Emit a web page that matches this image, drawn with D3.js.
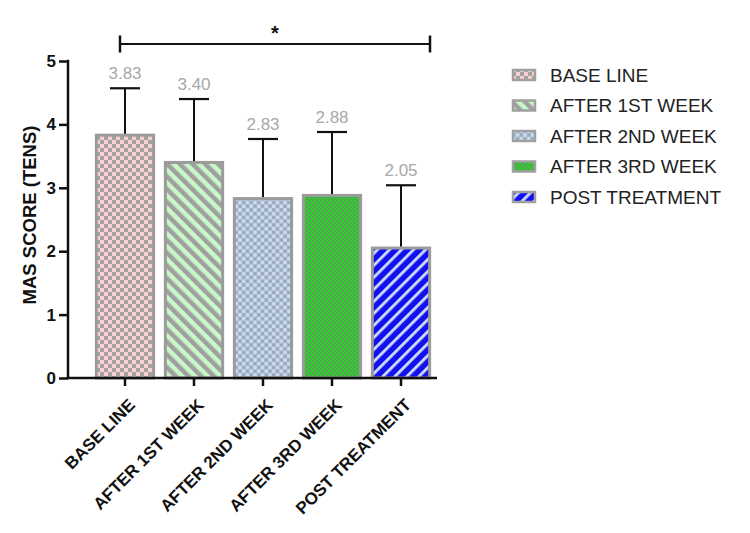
<!DOCTYPE html>
<html><head><meta charset="utf-8">
<script src="https://cdn.jsdelivr.net/npm/d3@7"></script>
<style>body{margin:0;background:#fff;} text{font-family:"Liberation Sans",Arial,sans-serif;}</style>
</head><body>
<svg id="chart" width="750" height="533"></svg>
<script>
const categories = ["BASE LINE","AFTER 1ST WEEK","AFTER 2ND WEEK","AFTER 3RD WEEK","POST TREATMENT"];
const means = [3.83, 3.40, 2.83, 2.88, 2.05];
const errUpper = [4.57, 4.40, 3.77, 3.88, 3.04];
const valueLabels = ["3.83","3.40","2.83","2.88","2.05"];
const yTicks = [0,1,2,3,4,5];
const sigLabel = "*";
const yTitle = "MAS SCORE (TENS)";

const svg = d3.select("#chart");
const defs = svg.append("defs");

function checker(id, c1, c2, s){
  const p = defs.append("pattern").attr("id",id).attr("patternUnits","userSpaceOnUse").attr("width",2*s).attr("height",2*s);
  p.append("rect").attr("width",2*s).attr("height",2*s).attr("fill",c1);
  p.append("rect").attr("width",s).attr("height",s).attr("fill",c2);
  p.append("rect").attr("x",s).attr("y",s).attr("width",s).attr("height",s).attr("fill",c2);
}
function stripes(id, bg, fg, period, w, angle){
  const p = defs.append("pattern").attr("id",id).attr("patternUnits","userSpaceOnUse").attr("width",period).attr("height",period).attr("patternTransform",`rotate(${angle})`);
  p.append("rect").attr("width",period).attr("height",period).attr("fill",bg);
  p.append("rect").attr("width",w).attr("height",period).attr("fill",fg);
}
checker("p0","#fbd0d0","#a3a1a1",4);
stripes("p1","#c8f7c8","#a0a0a0",9,4.5,-45);
{
  const s=7.5, r=2.3, c="#c2dcfa";
  const p = defs.append("pattern").attr("id","p2").attr("patternUnits","userSpaceOnUse").attr("width",s).attr("height",s);
  p.append("rect").attr("width",s).attr("height",s).attr("fill","#9fa2a9");
  [[0,0],[s,0],[0,s],[s,s],[s/2,s/2]].forEach(([a,b])=>p.append("circle").attr("cx",a).attr("cy",b).attr("r",r).attr("fill",c));
}
checker("p3","#30cc30","#52a452",2);
stripes("p4","#1010f0","#c8d4f4",8.5,3,45);

const colors = ["p0","p1","p2","p3","p4"];

const x = d3.scaleBand().domain(categories).range([90.5,435.5]).paddingInner(0.17).paddingOuter(0.085);
const y = d3.scaleLinear().domain([0,5]).range([378,61]);

svg.selectAll("rect.bar").data(categories).join("rect").attr("class","bar")
  .attr("x",d=>x(d)).attr("width",x.bandwidth())
  .attr("y",(d,i)=>y(means[i])).attr("height",(d,i)=>y(0)-y(means[i]))
  .attr("fill",(d,i)=>`url(#${colors[i]})`).attr("stroke","#9b9b9b").attr("stroke-width",3);

const cx = d=>x(d)+x.bandwidth()/2;
svg.selectAll("line.err").data(categories).join("line").attr("class","err")
  .attr("x1",cx).attr("x2",cx).attr("y1",(d,i)=>y(means[i])-1.5).attr("y2",(d,i)=>y(errUpper[i]))
  .attr("stroke","#111").attr("stroke-width",2);
svg.selectAll("line.cap").data(categories).join("line").attr("class","cap")
  .attr("x1",d=>cx(d)-15).attr("x2",d=>cx(d)+15).attr("y1",(d,i)=>y(errUpper[i])).attr("y2",(d,i)=>y(errUpper[i]))
  .attr("stroke","#111").attr("stroke-width",2.2);
svg.selectAll("text.val").data(categories).join("text").attr("class","val")
  .attr("x",cx).attr("y",(d,i)=>y(errUpper[i])-9).attr("text-anchor","middle")
  .attr("fill","#a8a8a8").attr("font-size",17).text((d,i)=>valueLabels[i]);

const yAxis = svg.append("g").attr("transform","translate(68,0)")
  .call(d3.axisLeft(y).tickValues(yTicks).tickFormat(d3.format("d")).tickSize(9).tickPadding(3));
yAxis.select(".domain").attr("stroke","#111").attr("stroke-width",2.5).attr("d","M0,378V59.75");
yAxis.selectAll(".tick line").attr("stroke","#111").attr("stroke-width",2.5);
yAxis.selectAll(".tick text").attr("font-size",17).attr("font-weight","bold").attr("fill","#111")
  .attr("font-family","'Liberation Sans',Arial,sans-serif");

const xAxis = svg.append("g").attr("transform","translate(0,378)")
  .call(d3.axisBottom(x).tickSize(8).tickSizeOuter(0));
xAxis.select(".domain").attr("stroke","#111").attr("stroke-width",2.5).attr("d","M66.75,0H437");
xAxis.selectAll(".tick line").attr("stroke","#111").attr("stroke-width",2.5);
xAxis.selectAll(".tick text").attr("font-size",17).attr("font-weight","bold").attr("fill","#111")
  .attr("font-family","'Liberation Sans',Arial,sans-serif")
  .attr("text-anchor","end").attr("dy",0).attr("y",0)
  .attr("transform","translate(11,28) rotate(-45)");

svg.append("text").attr("transform","translate(36,215) rotate(-90)").attr("text-anchor","middle")
  .attr("font-size",18.5).attr("font-weight","bold").attr("fill","#111").text(yTitle);

const sx1 = cx(categories[0])-5, sx2 = cx(categories[4])+29;
svg.append("line").attr("x1",sx1).attr("x2",sx2).attr("y1",44).attr("y2",44).attr("stroke","#111").attr("stroke-width",2);
svg.append("line").attr("x1",sx1).attr("x2",sx1).attr("y1",35.5).attr("y2",52.5).attr("stroke","#111").attr("stroke-width",2.5);
svg.append("line").attr("x1",sx2).attr("x2",sx2).attr("y1",35.5).attr("y2",52.5).attr("stroke","#111").attr("stroke-width",2.5);
svg.append("text").attr("x",(sx1+sx2)/2).attr("y",40).attr("text-anchor","middle").attr("font-size",20)
  .attr("font-weight","bold").attr("fill","#111").text(sigLabel);

const lg = svg.append("g");
categories.forEach((c,i)=>{
  const yy = 75 + i*30.5;
  lg.append("rect").attr("x",513).attr("y",yy-5).attr("width",22).attr("height",10)
    .attr("fill",`url(#${colors[i]})`).attr("stroke","#a0a0a0").attr("stroke-width",2.5);
  lg.append("text").attr("x",550).attr("y",yy).attr("dy","0.35em").attr("font-size",19)
    .attr("fill","#222").text(c);
});
</script>
</body></html>
